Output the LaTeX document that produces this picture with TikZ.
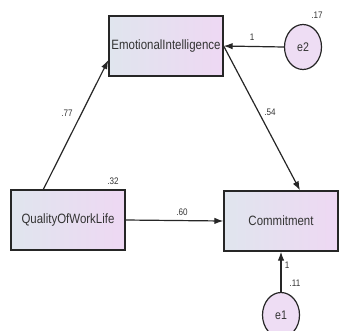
\documentclass[tikz,border=0pt]{standalone}
\usepackage{fontspec}
\setmainfont{Liberation Sans}
\newfontfamily\narrowsans[FakeStretch=0.85]{Liberation Sans}
\usepackage{xcolor}
\usetikzlibrary{calc,arrows.meta,shapes.geometric}
\definecolor{ink}{HTML}{333333}
\definecolor{edge}{HTML}{262626}
\definecolor{boxl}{HTML}{E0E5EE}
\definecolor{boxr}{HTML}{EED8F3}
\definecolor{errfill}{HTML}{EEDDF4}
\tikzset{
  var/.style={draw=edge, line width=1.3pt, left color=boxl, right color=boxr,
    minimum width=114pt, minimum height=60pt, inner sep=0pt, text=ink,
    font=\narrowsans\fontsize{13.5}{15}\selectfont},
  err/.style={ellipse, draw=edge, line width=1.2pt, fill=errfill,
    minimum width=37pt, minimum height=45pt, inner sep=0pt, text=ink,
    font=\narrowsans\fontsize{12.5}{14}\selectfont},
  path/.style={draw=edge, line width=1.2pt, -{Latex[length=9pt,width=6.5pt]}},
  num/.style={text=ink, font=\narrowsans\fontsize{9.5}{11}\selectfont, inner sep=0pt},
}
\begin{document}
\begin{tikzpicture}[x=1pt,y=-1pt]
  \useasboundingbox (0,0) rectangle (339,330);
  \clip (0,0) rectangle (339,330);
  % observed variables
  \node[var] (ei) at (166,46) {EmotionalIntelligence};
  \node[var] (qwl) at (68,220) {QualityOfWorkLife};
  \node[var] (com) at (281,221) {Commitment};
  % error terms
  \node[err] (e2) at (303,47) {e2};
  \node[err] (e1) at (281,315) {e1};
  % paths
  \draw[path] ($(qwl.north west)+(33,0)$) -- ($(ei.west)+(0,14)$);
  \draw[path] (ei.east) -- ($(com.north)+(19,0)$);
  \draw[path] (qwl.east) -- (com.west);
  \draw[path] (e2.west) -- (ei.east);
  \draw[path] (e1.north) -- (com.south);
  % estimates
  \node[num] at (67,113) {.77};
  \node[num] at (270,112) {.54};
  \node[num] at (182,212) {.60};
  \node[num] at (113,181) {.32};
  \node[num] at (252,37) {1};
  \node[num] at (317,15) {.17};
  \node[num] at (287,265) {1};
  \node[num] at (295,283) {.11};
\end{tikzpicture}
\end{document}
